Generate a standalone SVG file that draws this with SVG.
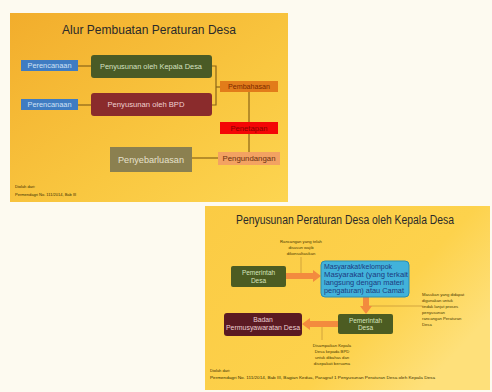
<svg xmlns="http://www.w3.org/2000/svg" width="492" height="392" viewBox="0 0 492 392">
<defs>
<linearGradient id="g1" x1="0" y1="0" x2="1" y2="1">
<stop offset="0" stop-color="#f2ad2c"/>
<stop offset="0.6" stop-color="#f9c740"/>
<stop offset="1" stop-color="#fdd551"/>
</linearGradient>
<linearGradient id="g2" x1="0" y1="0" x2="1" y2="0.6">
<stop offset="0" stop-color="#fbcb44"/>
<stop offset="0.7" stop-color="#fdd24c"/>
<stop offset="1" stop-color="#fee07a"/>
</linearGradient>
</defs>
<style>
text{font-family:"Liberation Sans","Open Sans",sans-serif}
.title{font-size:12px;fill:#2a2a2a}
.lbl{font-size:7px;text-anchor:middle}
.tiny{font-size:4px;fill:#3a3000}
.note{font-size:4.2px;fill:#4a3a00}
.ln{stroke:#8a6418;stroke-width:1.2;fill:none}
.an{stroke:#c89a38;stroke-width:0.8;fill:none}
.arr{fill:#f38b3e}
</style>
<rect x="0" y="0" width="492" height="392" fill="#fdfaf0"/>

<!-- Slide 1 -->
<g id="slide1">
<rect x="10" y="13" width="278" height="189" fill="url(#g1)"/>
<text class="title" x="149" y="34" text-anchor="middle" textLength="174" lengthAdjust="spacingAndGlyphs">Alur Pembuatan Peraturan Desa</text>
<text class="tiny" x="15" y="188">Diolah dari:</text>
<text class="tiny" x="15" y="196">Permendagri No. 111/2014, Bab III</text>
</g>

<g id="connectors1">
<line class="ln" x1="78" y1="66" x2="91" y2="66"/>
<line class="ln" x1="78" y1="105" x2="91" y2="105"/>
<polyline class="ln" points="212,66 216,66 216,105 212,105"/>
<line class="ln" x1="216" y1="87" x2="220" y2="87"/>
<line class="ln" x1="249" y1="92" x2="249" y2="152"/>
<line class="ln" x1="192" y1="158" x2="218" y2="158"/>
</g>

<g id="perencanaan1">
<rect x="21" y="60" width="57" height="11" fill="#3f7cc2"/>
<text class="lbl" x="49.5" y="68" fill="#cfe0f5" textLength="44" lengthAdjust="spacingAndGlyphs">Perencanaan</text>
</g>
<g id="perencanaan2">
<rect x="21" y="99" width="57" height="11" fill="#3f7cc2"/>
<text class="lbl" x="49.5" y="107" fill="#cfe0f5" textLength="44" lengthAdjust="spacingAndGlyphs">Perencanaan</text>
</g>
<g id="kepala">
<rect x="91" y="55" width="121" height="23" rx="3" fill="#4a5b26"/>
<text class="lbl" x="151" y="69" fill="#d5e0c0" textLength="102" lengthAdjust="spacingAndGlyphs">Penyusunan oleh Kepala Desa</text>
</g>
<g id="bpd">
<rect x="91" y="93" width="121" height="23" rx="3" fill="#8a2b2c"/>
<text class="lbl" x="146" y="107" fill="#f0d0d0" textLength="77" lengthAdjust="spacingAndGlyphs">Penyusunan  oleh BPD</text>
</g>
<g id="pembahasan">
<rect x="220" y="81" width="58" height="11" fill="#e27c1a"/>
<text class="lbl" x="249" y="89" fill="#7a2a00" textLength="42" lengthAdjust="spacingAndGlyphs">Pembahasan</text>
</g>
<g id="penetapan">
<rect x="220" y="122" width="58" height="12" fill="#f40606"/>
<text class="lbl" x="249" y="130.5" fill="#8a0000" textLength="37" lengthAdjust="spacingAndGlyphs">Penetapan</text>
</g>
<g id="pengundangan">
<rect x="218" y="152" width="62" height="13" fill="#f3a262"/>
<text class="lbl" x="249" y="161" fill="#6a3010" textLength="53" lengthAdjust="spacingAndGlyphs">Pengundangan</text>
</g>
<g id="penyebarluasan">
<rect x="110" y="147" width="82" height="25" fill="#8b8050"/>
<text class="lbl" x="151" y="163" fill="#e6e0cc" style="font-size:9px" textLength="66" lengthAdjust="spacingAndGlyphs">Penyebarluasan</text>
</g>

<!-- Slide 2 -->
<g id="slide2">
<rect x="205" y="206" width="285" height="184" fill="url(#g2)"/>
<text class="title" x="345" y="224" text-anchor="middle" textLength="218" lengthAdjust="spacingAndGlyphs">Penyusunan Peraturan Desa oleh Kepala Desa</text>
<text class="tiny" x="210" y="372">Diolah dari:</text>
<text class="tiny" x="210" y="379" textLength="225" lengthAdjust="spacingAndGlyphs">Permendagri No. 111/2014, Bab III, Bagian Kedua, Paragraf 1 Penyusunan Peraturan Desa oleh Kepala Desa</text>
</g>

<g id="connectors2">
<line class="an" x1="301" y1="257" x2="301" y2="274"/>
<line class="an" x1="369" y1="306" x2="422" y2="306"/>
<line class="an" x1="322" y1="327" x2="322" y2="340"/>
<polygon class="arr" points="286,273 313,273 313,270 321,276 313,282 313,279 286,279"/>
<polygon class="arr" points="363,297 369,297 369,306 372,306 366,314 360,306 363,306"/>
<polygon class="arr" points="338,321 310,321 310,318 302,324 310,330 310,327 338,327"/>
</g>

<g id="note1">
<text class="note" x="301" y="243" text-anchor="middle">Rancangan yang telah</text>
<text class="note" x="301" y="249" text-anchor="middle">disusun wajib</text>
<text class="note" x="301" y="255" text-anchor="middle">dikonsultasikan</text>
</g>
<g id="note2">
<text class="note" x="422" y="296">Masukan yang didapat</text>
<text class="note" x="422" y="302">digunakan untuk</text>
<text class="note" x="422" y="308">tindak lanjut proses</text>
<text class="note" x="422" y="314">penyusunan</text>
<text class="note" x="422" y="320">rancangan Peraturan</text>
<text class="note" x="422" y="326">Desa</text>
</g>
<g id="note3">
<text class="note" x="332" y="347" text-anchor="middle">Disampaikan Kepala</text>
<text class="note" x="332" y="353" text-anchor="middle">Desa kepada BPD</text>
<text class="note" x="332" y="359" text-anchor="middle">untuk dibahas dan</text>
<text class="note" x="332" y="365" text-anchor="middle">disepakati bersama</text>
</g>

<g id="pemdes1">
<rect x="231" y="266" width="55" height="21" rx="2" fill="#4c5c22"/>
<text class="lbl" x="258.5" y="275" fill="#d6e4bc" style="font-size:6.5px">Pemerintah</text>
<text class="lbl" x="258.5" y="283" fill="#d6e4bc" style="font-size:6.5px">Desa</text>
</g>
<g id="masyarakat">
<rect x="321" y="261" width="88" height="36" rx="4" fill="#42b2da" stroke="#2a8fb0" stroke-width="1"/>
<text x="324" y="269" fill="#1d3a80" style="font-size:7px">Masyarakat/kelompok</text>
<text x="324" y="277" fill="#1d3a80" style="font-size:7px" textLength="84" lengthAdjust="spacingAndGlyphs">Masyarakat (yang terkait</text>
<text x="324" y="285" fill="#1d3a80" style="font-size:7px" textLength="80" lengthAdjust="spacingAndGlyphs">langsung dengan materi</text>
<text x="324" y="293" fill="#1d3a80" style="font-size:7px" textLength="80" lengthAdjust="spacingAndGlyphs">pengaturan) atau Camat</text>
</g>
<g id="pemdes2">
<rect x="338" y="314" width="55" height="20" rx="2" fill="#4c5c22"/>
<text class="lbl" x="365.5" y="322.5" fill="#d6e4bc" style="font-size:6.5px">Pemerintah</text>
<text class="lbl" x="365.5" y="330" fill="#d6e4bc" style="font-size:6.5px">Desa</text>
</g>
<g id="bpd2">
<rect x="224" y="313" width="78" height="23" rx="3" fill="#5b1a22"/>
<text class="lbl" x="263" y="321.5" fill="#eccfd2" style="font-size:6.8px">Badan</text>
<text class="lbl" x="263" y="330" fill="#eccfd2" style="font-size:6.8px" textLength="74" lengthAdjust="spacingAndGlyphs">Permusyawaratan Desa</text>
</g>
</svg>
